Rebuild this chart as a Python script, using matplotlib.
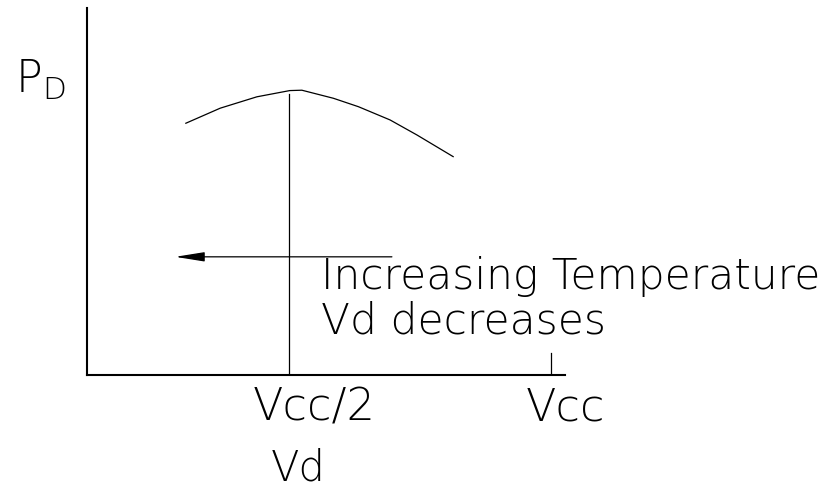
import matplotlib
matplotlib.use("Agg")
import matplotlib.pyplot as plt
from matplotlib import font_manager

# curve of P_D against Vd (sketch units, Vcc = 10)
vd = [2.13, 2.87, 3.66, 4.37, 4.63, 5.31, 5.85, 6.53, 7.11, 7.89]
pd = [6.86, 7.27, 7.58, 7.75, 7.76, 7.54, 7.31, 6.95, 6.54, 5.95]

half_vcc = 4.36
peak_pd = 7.66
vcc = 10.0
arrow_from = 6.57
arrow_to = 1.90
arrow_level = 3.22

note_lines = ["Increasing Temperature", "Vd decreases"]
tick_labels = ["Vcc/2", "Vcc"]


def pick_font():
    # thin stroke font if one is installed, otherwise plain DejaVu
    for fam in ["DejaVu Sans", "Roboto", "Lato", "Open Sans", "Noto Sans", "Inter"]:
        for f in font_manager.fontManager.ttflist:
            w = f.weight if isinstance(f.weight, int) else 400
            if f.name == fam and w <= 300 and f.style == "normal":
                return fam, w
    return "DejaVu Sans", 400


def main():
    fam, weight = pick_font()
    plt.rcParams["font.family"] = [fam, "DejaVu Sans"]
    plt.rcParams["font.weight"] = weight
    plt.rcParams["mathtext.fontset"] = "custom"
    plt.rcParams["mathtext.rm"] = fam

    fig = plt.figure(figsize=(8.24, 4.91), dpi=100)
    ax = fig.add_axes([87 / 824, 116 / 491, 478 / 824, 367 / 491])
    ax.set_xlim(0, 10.30)
    ax.set_ylim(0, 10)
    for side in ["top", "right"]:
        ax.spines[side].set_visible(False)
    for side in ["left", "bottom"]:
        ax.spines[side].set_linewidth(1.5)
    ax.set_xticks([])
    ax.set_yticks([])

    ax.plot(vd, pd, color="black", lw=0.9)
    ax.plot([half_vcc, half_vcc], [0, peak_pd], color="black", lw=0.9)
    ax.plot([vcc, vcc], [0, 0.6], color="black", lw=0.9)

    ax.annotate("", xy=(arrow_to, arrow_level), xytext=(arrow_from, arrow_level),
                arrowprops=dict(arrowstyle="-|>,head_length=1.0,head_width=0.16",
                                mutation_scale=18, lw=0.9, color="black",
                                shrinkA=0, shrinkB=0))

    ax.text(5.04, 2.34, note_lines[0], fontsize=30.5, va="baseline", clip_on=False)
    ax.text(5.04, 1.12, note_lines[1], fontsize=30.5, va="baseline", clip_on=False)

    ax.text(4.89, -1.23, tick_labels[0], fontsize=32, ha="center", va="baseline", clip_on=False)
    ax.text(10.30, -1.23, tick_labels[1], fontsize=32, ha="center", va="baseline", clip_on=False)
    ax.text(4.55, -2.88, "Vd", fontsize=30, ha="center", va="baseline", clip_on=False)
    ax.text(-1.55, 7.68, r"$\mathrm{P_D}$", fontsize=32, va="baseline", clip_on=False)

    fig.savefig("out.png", dpi=100)


if __name__ == "__main__":
    main()
